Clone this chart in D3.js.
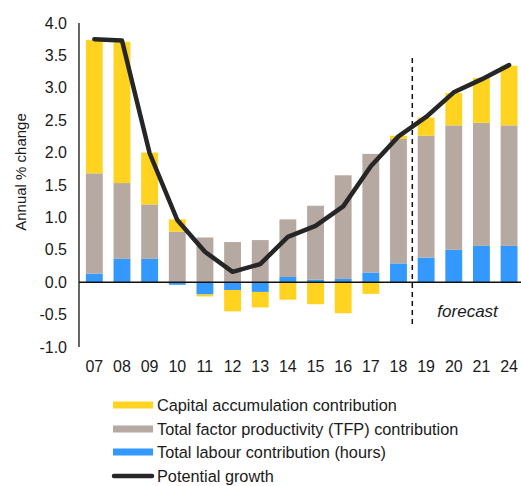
<!DOCTYPE html>
<html><head><meta charset="utf-8">
<script src="https://cdn.jsdelivr.net/npm/d3@7/dist/d3.min.js"></script>
<style>body{margin:0;background:#fff}svg{display:block}text{font-family:"Liberation Sans",Arial,sans-serif;fill:#1a1a1a}</style>
</head><body><svg id="c" width="521" height="486"></svg>
<script>
const categories = ["07","08","09","10","11","12","13","14","15","16","17","18","19","20","21","24"];
const labour  = [0.13,0.36,0.36,-0.04,-0.19,-0.12,-0.15,0.08,0.04,0.05,0.15,0.29,0.38,0.50,0.56,0.56];
const tfp     = [1.55,1.17,0.84,0.78,0.69,0.62,0.65,0.89,1.14,1.60,1.83,1.92,1.88,1.92,1.90,1.86];
const capital = [2.06,2.18,0.80,0.19,-0.03,-0.33,-0.24,-0.27,-0.34,-0.48,-0.18,0.05,0.28,0.50,0.69,0.92];
const potential = [3.75,3.73,1.99,0.96,0.47,0.16,0.28,0.70,0.87,1.17,1.79,2.25,2.55,2.93,3.13,3.35];
const yTicks = [4.0,3.5,3.0,2.5,2.0,1.5,1.0,0.5,0.0,-0.5,-1.0];
const seriesKeys = ["labour","tfp","capital"];
const seriesNames = {capital:"Capital accumulation contribution", tfp:"Total factor productivity (TFP) contribution", labour:"Total labour contribution (hours)"};
const colors = {capital:"#FFD320", tfp:"#B6A9A1", labour:"#3399FF"};
const forecastSplit = ["18","19"];
const forecastRange = [3.46,-0.69];

const svg = d3.select("#c");
const y = d3.scaleLinear().domain([-1,4]).range([347,23]);
const x = d3.scaleBand().domain(categories).range([80.5,522.9]).paddingInner(0.39).paddingOuter(0.195);

const table = categories.map((c,i)=>({cat:c, labour:labour[i], tfp:tfp[i], capital:capital[i]}));
const stacked = d3.stack().keys(seriesKeys).offset(d3.stackOffsetDiverging)(table);

svg.append("g").selectAll("g").data(stacked).join("g")
  .attr("fill", d=>colors[d.key])
  .selectAll("rect").data(d=>d).join("rect")
  .attr("x", d=>x(d.data.cat))
  .attr("width", x.bandwidth())
  .attr("y", d=>y(Math.max(d[0],d[1])))
  .attr("height", d=>Math.abs(y(d[0])-y(d[1])));

// axes
svg.append("line").attr("x1",79).attr("x2",79).attr("y1",y(4)).attr("y2",y(-1)).attr("stroke","#333").attr("stroke-width",1.5);
svg.append("line").attr("x1",79).attr("x2",521).attr("y1",y(0)).attr("y2",y(0)).attr("stroke","#111").attr("stroke-width",1.5);

svg.append("g").selectAll("text").data(yTicks).join("text")
  .attr("x",67).attr("y",d=>y(d)).attr("dy","0.35em").attr("text-anchor","end")
  .attr("font-size",16).text(d=>d.toFixed(1));

svg.append("g").selectAll("text").data(categories).join("text")
  .attr("x",d=>x(d)+x.bandwidth()/2).attr("y",366).attr("dy","0.35em").attr("text-anchor","middle")
  .attr("font-size",16).text(d=>d);

svg.append("text").attr("transform","translate(21,172) rotate(-90)").attr("text-anchor","middle").attr("dy","0.35em")
  .attr("font-size",15).text("Annual % change");

// forecast divider
const xs = (x(forecastSplit[0])+x.bandwidth()+x(forecastSplit[1]))/2;
svg.append("line").attr("x1",xs).attr("x2",xs).attr("y1",y(forecastRange[0])).attr("y2",y(forecastRange[1]))
  .attr("stroke","#111").attr("stroke-width",1.5).attr("stroke-dasharray","5,4");
svg.append("text").attr("x",(x("20")+x("21")+x.bandwidth())/2).attr("y",y(-0.44)).attr("dy","0.35em")
  .attr("text-anchor","middle").attr("font-size",17).attr("font-style","italic").text("forecast");

// potential line
const line = d3.line().x((d,i)=>x(categories[i])+x.bandwidth()/2).y(d=>y(d));
svg.append("path").datum(potential).attr("d",line).attr("fill","none").attr("stroke","#262626")
  .attr("stroke-width",4.5).attr("stroke-linejoin","round").attr("stroke-linecap","round");

// legend
const legendItems = ["capital","tfp","labour","potential"];
const lg = svg.append("g");
const rowsY = [405,429,452,476];
legendItems.forEach((k,i)=>{
  const cy = rowsY[i];
  if(k==="potential"){
    lg.append("line").attr("x1",114).attr("x2",152).attr("y1",cy).attr("y2",cy).attr("stroke","#262626").attr("stroke-width",4.5).attr("stroke-linecap","round");
  } else {
    lg.append("rect").attr("x",113).attr("y",cy-3.5).attr("width",40).attr("height",7).attr("fill",colors[k]);
  }
  lg.append("text").attr("x",157).attr("y",cy).attr("dy","0.35em").attr("font-size",16.3)
    .text(k==="potential"?"Potential growth":seriesNames[k]);
});
</script></body></html>
